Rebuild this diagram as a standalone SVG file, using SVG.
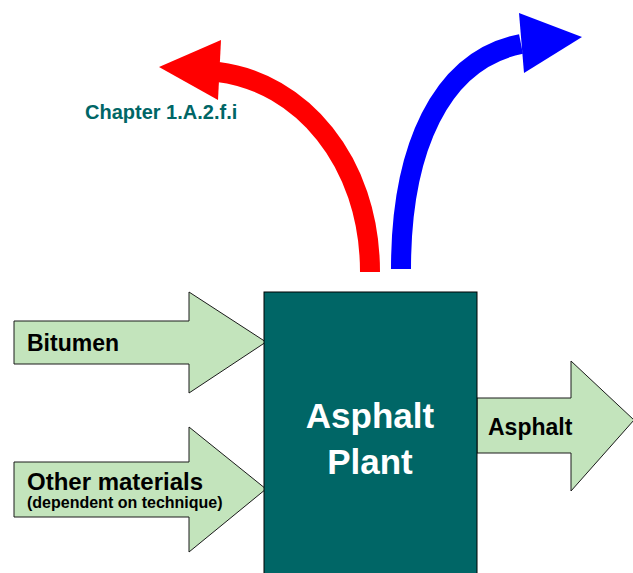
<svg xmlns="http://www.w3.org/2000/svg" width="633" height="573" viewBox="0 0 633 573">
<style>
.flow{fill:#C3E4BC;stroke:#1a1a1a;stroke-width:1}
.lbl{font-family:"Liberation Sans",Arial,sans-serif;font-weight:bold;fill:#000}
.plant{font-family:"Liberation Sans",Arial,sans-serif;font-weight:bold;fill:#fff;font-size:35px}
</style>
<rect width="633" height="573" fill="#fff"/>
<g id="connectors">
<path d="M370,272 C370,160 300,82 218,72" fill="none" stroke="#FF0000" stroke-width="20"/>
<polygon points="221,40 159,67 218,100" fill="#FF0000"/>
<path d="M401,269 C401,150 440,60 521,44" fill="none" stroke="#0000FF" stroke-width="20"/>
<polygon points="519,13 582,37 524,73" fill="#0000FF"/>
</g>
<g id="chapter">
<text x="85" y="119" font-family="Liberation Sans, Arial, sans-serif" font-weight="bold" font-size="20" fill="#006666">Chapter 1.A.2.f.i</text>
</g>
<g id="bitumen">
<polygon class="flow" points="14,321 189,321 189,292 266,342 189,393 189,364 14,364"/>
<text class="lbl" x="27" y="351" font-size="23">Bitumen</text>
</g>
<g id="other">
<polygon class="flow" points="14,462 189,462 189,427 266,489 189,552 189,517 14,517"/>
<text class="lbl" x="27" y="490" font-size="24">Other materials</text>
<text class="lbl" x="27" y="508" font-size="16">(dependent on technique)</text>
</g>
<g id="output">
<polygon class="flow" points="477,398 571,398 571,361 634,420 571,491 571,453 477,453"/>
<text class="lbl" x="488" y="435" font-size="23">Asphalt</text>
</g>
<g id="plant">
<rect x="264" y="292" width="213" height="290" fill="#006666" stroke="#000" stroke-width="1"/>
<text class="plant" x="370" y="428" text-anchor="middle">Asphalt</text>
<text class="plant" x="370" y="474" text-anchor="middle">Plant</text>
</g>
</svg>
